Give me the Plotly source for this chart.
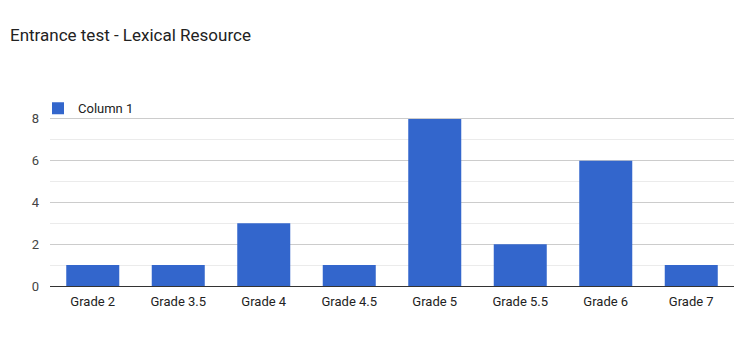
import plotly.graph_objects as go

categories = ["Grade 2", "Grade 3.5", "Grade 4", "Grade 4.5", "Grade 5", "Grade 5.5", "Grade 6", "Grade 7"]
values = [1, 1, 3, 1, 8, 2, 6, 1]
series_name = "Column 1"
y_ticks = [0, 2, 4, 6, 8]

fig = go.Figure()
fig.add_trace(go.Bar(x=categories, y=values, name=series_name,
                     marker=dict(color="#3366cc", line=dict(width=0))))

fig.update_layout(
    width=736, height=360, autosize=False,
    margin=dict(l=50, r=2, t=98, b=74),
    paper_bgcolor="white", plot_bgcolor="white",
    font=dict(family="Roboto, Arial, sans-serif", size=12, color="#444444"),
    title=dict(text="Entrance test - Lexical Resource", x=10/736, xanchor="left",
               y=1-35/360, yanchor="middle",
               font=dict(size=17, color="#222222")),
    bargap=0.38,
    showlegend=True,
    legend=dict(x=-12/684, y=1.025, xanchor="left", yanchor="top",
                bgcolor="rgba(0,0,0,0)", font=dict(size=13, color="#222222"),
                itemwidth=30),
    xaxis=dict(showgrid=False, showline=False, ticks="", ticklabelstandoff=6,
               tickfont=dict(size=13, color="#222222")),
    yaxis=dict(range=[0, 9], tickvals=y_ticks, showgrid=True, gridcolor="#cccccc",
               gridwidth=1, zeroline=True, zerolinecolor="#333333", zerolinewidth=1,
               ticks="", tickfont=dict(size=13, color="#444444"), ticklabelstandoff=10,
               minor=dict(dtick=1, showgrid=True, gridcolor="#ebebeb", gridwidth=1)),
)

post = ("document.body.style.margin='0';document.body.style.overflow='hidden';"
        "var gd=document.getElementById('{plot_id}');"
        "Plotly.relayout(gd,{width:736,height:360});")

fig.write_html("out.html", post_script=post,
               config={"responsive": False, "displayModeBar": False})
